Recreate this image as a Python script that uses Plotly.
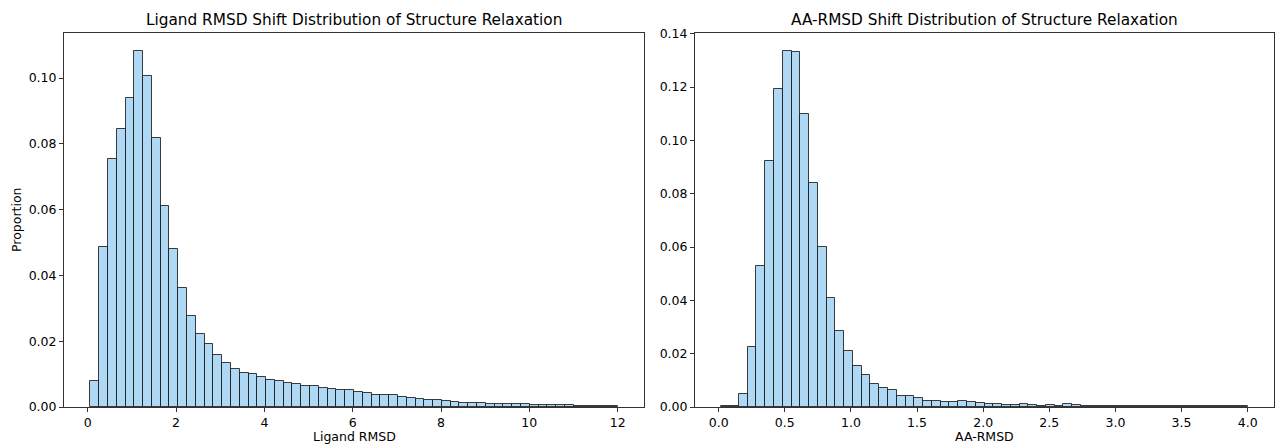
import numpy as np
import plotly.graph_objects as go

# ---------------- data ----------------
ligand_bin_start = 0.06
ligand_bin_end = 12.0
ligand_props = [
    0.0078, 0.0487, 0.0755, 0.0844, 0.0939, 0.1083, 0.1005, 0.0819, 0.0612, 0.0479,
    0.0362, 0.0276, 0.0223, 0.0193, 0.0158, 0.0133, 0.0116, 0.0102, 0.0101, 0.0092,
    0.0083, 0.0080, 0.0072, 0.0070, 0.0065, 0.0063, 0.0058, 0.0055, 0.0053, 0.0052,
    0.0047, 0.0042, 0.0038, 0.0037, 0.0037, 0.0031, 0.0026, 0.0024, 0.0022, 0.0021,
    0.0019, 0.0015, 0.0013, 0.0012, 0.0011, 0.0010, 0.0009, 0.0009, 0.0008, 0.0008,
    0.0007, 0.0007, 0.0006, 0.0006, 0.0005, 0.0004, 0.0004, 0.0003, 0.0003, 0.0003,
]

aa_bin_start = 0.02
aa_bin_end = 4.0
aa_props = [
    0.0002, 0.0003, 0.0050, 0.0226, 0.0530, 0.0924, 0.1194, 0.1336, 0.1333, 0.1099,
    0.0841, 0.0600, 0.0410, 0.0285, 0.0209, 0.0154, 0.0121, 0.0088, 0.0073, 0.0065,
    0.0043, 0.0043, 0.0034, 0.0023, 0.0023, 0.0020, 0.0019, 0.0023, 0.0018, 0.0015,
    0.0013, 0.0010, 0.0008, 0.0007, 0.0011, 0.0006, 0.0005, 0.0009, 0.0005, 0.0010,
    0.0007, 0.0005, 0.0004, 0.0004, 0.0004, 0.0003, 0.0004, 0.0005, 0.0003, 0.0003,
    0.0002, 0.0002, 0.0004, 0.0005, 0.0004, 0.0002, 0.0005, 0.0003, 0.0003, 0.0002,
]

ligand_xticks = [0, 2, 4, 6, 8, 10, 12]
ligand_yticks = [0.00, 0.02, 0.04, 0.06, 0.08, 0.10]
aa_xticks = [0.0, 0.5, 1.0, 1.5, 2.0, 2.5, 3.0, 3.5, 4.0]
aa_yticks = [0.00, 0.02, 0.04, 0.06, 0.08, 0.10, 0.12, 0.14]

titles = ["Ligand RMSD Shift Distribution of Structure Relaxation",
          "AA-RMSD Shift Distribution of Structure Relaxation"]
xlabels = ["Ligand RMSD", "AA-RMSD"]
ylabel = "Proportion"

# ---------------- figure ----------------
W, H = 1275, 444
FONT = "DejaVu Sans"
BAR_FILL = "rgb(174,216,243)"
BAR_EDGE = "rgba(15,15,15,0.8)"
AXIS_COL = "#333333"


def bins(start, end, n):
    edges = np.linspace(start, end, n + 1)
    return (edges[:-1] + edges[1:]) / 2, edges[1] - edges[0]


fig = go.Figure()

lc, lw = bins(ligand_bin_start, ligand_bin_end, len(ligand_props))
ac, aw = bins(aa_bin_start, aa_bin_end, len(aa_props))

fig.add_trace(go.Bar(x=lc, y=ligand_props, width=lw, xaxis="x", yaxis="y",
                     marker=dict(color=BAR_FILL, line=dict(color=BAR_EDGE, width=1)),
                     showlegend=False))
fig.add_trace(go.Bar(x=ac, y=aa_props, width=aw, xaxis="x2", yaxis="y2",
                     marker=dict(color=BAR_FILL, line=dict(color=BAR_EDGE, width=1)),
                     showlegend=False))

ydom = [37 / H, (H - 33) / H]
xdom1 = [64 / W, 644 / W]
xdom2 = [695 / W, 1274 / W]


def xr(start, end):
    pad = 0.05 * (end - start)
    return [start - pad, end + pad]


common = dict(showline=True, linecolor=AXIS_COL, linewidth=1, mirror=True,
              ticks="outside", ticklen=4, tickwidth=1, tickcolor=AXIS_COL,
              showgrid=False, zeroline=False, automargin=False,
              tickfont=dict(family=FONT, size=12.5, color="black"))

fig.update_layout(
    width=W, height=H,
    margin=dict(l=0, r=0, t=0, b=0, autoexpand=False),
    paper_bgcolor="white", plot_bgcolor="white",
    bargap=0,
    font=dict(family=FONT, size=12.5, color="black"),
    xaxis=dict(domain=xdom1, anchor="y", range=xr(ligand_bin_start, ligand_bin_end),
               tickvals=ligand_xticks, ticktext=[str(v) for v in ligand_xticks],
               **common),
    yaxis=dict(domain=ydom, anchor="x", range=[0, 1.05 * max(ligand_props)],
               tickvals=ligand_yticks, ticktext=[f"{v:.2f}" for v in ligand_yticks],
               **common),
    xaxis2=dict(domain=xdom2, anchor="y2", range=xr(aa_bin_start, aa_bin_end),
                tickvals=aa_xticks, ticktext=[f"{v:.1f}" for v in aa_xticks],
                **common),
    yaxis2=dict(domain=ydom, anchor="x2", range=[0, 1.05 * max(aa_props)],
                tickvals=aa_yticks, ticktext=[f"{v:.2f}" for v in aa_yticks],
                **common),
)

for dom, t, xl in zip([xdom1, xdom2], titles, xlabels):
    cx = (dom[0] + dom[1]) / 2
    fig.add_annotation(text=t, x=cx, y=(H - 20) / H,
                       xref="paper", yref="paper", xanchor="center", yanchor="middle",
                       showarrow=False, font=dict(family=FONT, size=15.3, color="black"))
    fig.add_annotation(text=xl, x=cx, y=(H - 436) / H,
                       xref="paper", yref="paper", xanchor="center", yanchor="middle",
                       showarrow=False, font=dict(family=FONT, size=12.5, color="black"))

fig.add_annotation(text=ylabel, x=16 / W, y=(H - 220) / H, textangle=-90,
                   xref="paper", yref="paper", xanchor="center", yanchor="middle",
                   showarrow=False, font=dict(family=FONT, size=12.5, color="black"))

fig.write_html("out.html",
               config={"displayModeBar": False},
               post_script="document.body.style.margin='0px';document.body.style.overflow='hidden';")
